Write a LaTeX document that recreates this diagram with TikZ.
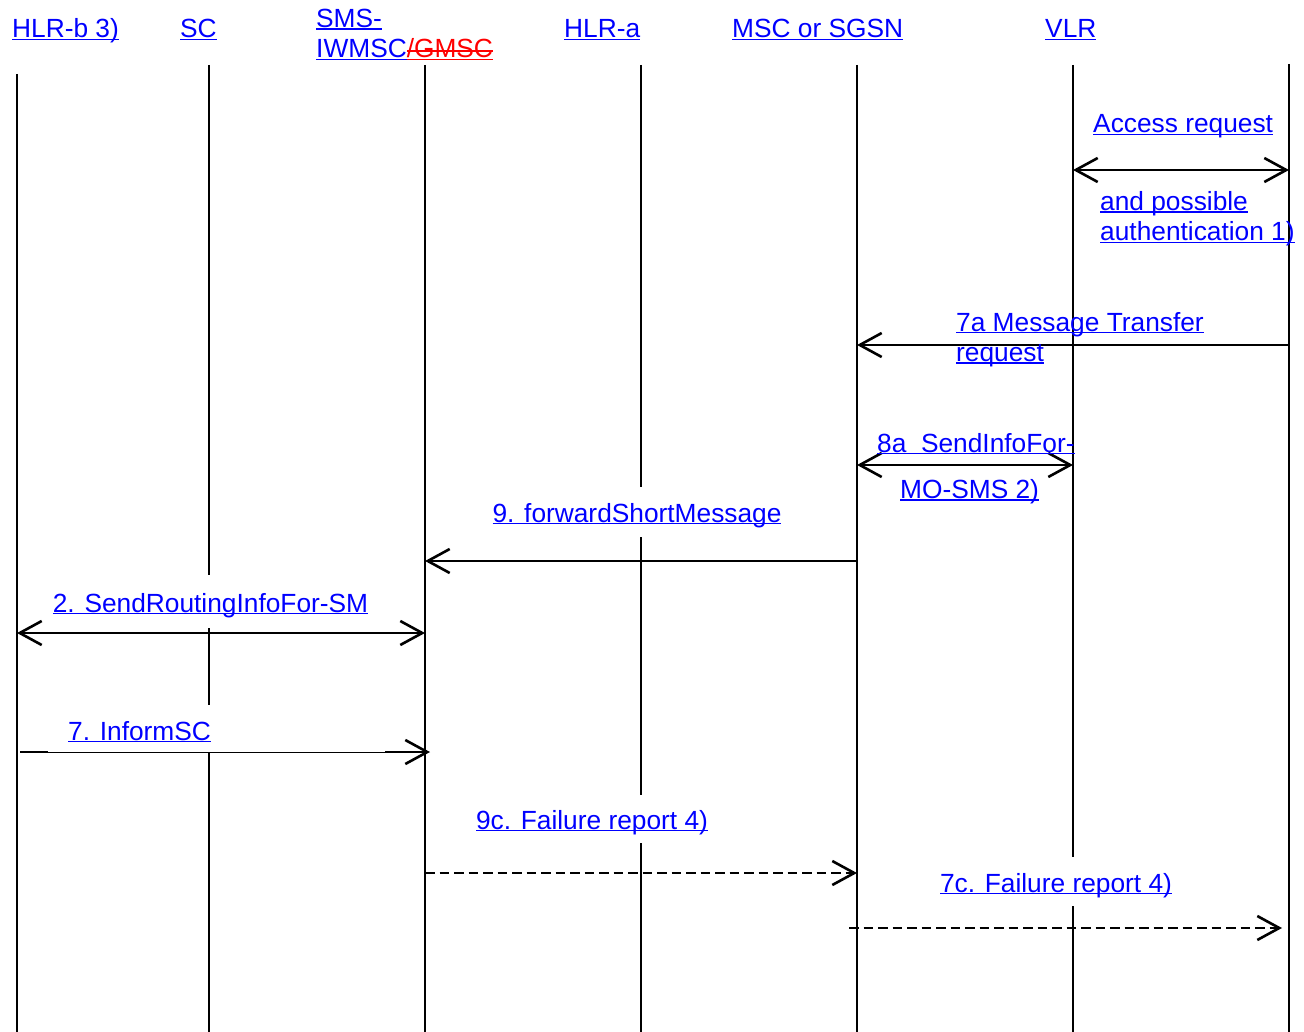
\documentclass[tikz,border=0pt]{standalone}
\usepackage{fontspec}
\setmainfont{Liberation Sans}
\usetikzlibrary{arrows.meta}
\definecolor{lblue}{RGB}{0,0,255}
\definecolor{lred}{RGB}{255,0,0}
\newcommand\ulin[1]{\setbox0\hbox{#1}\rlap{\rule[-2.3pt]{\wd0}{1.7pt}}\box0}
\newcommand\strk[1]{\setbox0\hbox{#1}\rlap{\rule[-2.3pt]{\wd0}{1.7pt}}\rlap{\rule[5.8pt]{\wd0}{1.7pt}}\box0}
\tikzset{
  lbl/.style={font=\fontsize{26.3}{30.5}\selectfont, text=lblue, inner sep=0pt, anchor=base west, align=left},
  boxlbl/.style={font=\fontsize{26.3}{30.5}\selectfont, text=lblue, fill=white, inner ysep=0pt, inner xsep=10pt, anchor=base},
  life/.style={line width=2.5pt, black},
  tipb/.tip={Straight Barb[length=22pt,width=24pt,line width=2.6pt]},
  msg/.style={line width=2.5pt, black, -tipb},
  dmsg/.style={line width=2.5pt, black, {tipb}-{tipb}},
  fmsg/.style={line width=2.5pt, black, -tipb, dash pattern=on 9.5pt off 5pt},
}
\begin{document}
\begin{tikzpicture}[x=1pt,y=-1pt]
\useasboundingbox (0,0) rectangle (1304,1032);
% lifelines
\coordinate (hlrbT) at (17,74);   \coordinate (hlrbB) at (17,1032);
\coordinate (scT) at (209,65);    \coordinate (scB) at (209,1032);
\coordinate (iwT) at (425,65);    \coordinate (iwB) at (425,1032);
\coordinate (hlraT) at (641,65);  \coordinate (hlraB) at (641,1032);
\coordinate (mscT) at (857,65);   \coordinate (mscB) at (857,1032);
\coordinate (vlrT) at (1073,65);  \coordinate (vlrB) at (1073,1032);
\coordinate (msT) at (1289,64);   \coordinate (msB) at (1289,1032);
\foreach \l in {hlrb,sc,iw,hlra,msc,vlr,ms} \draw[life] (\l T) -- (\l B);
% headers
\node[lbl] (hHLRb) at (12,38) {\ulin{HLR-b 3)}};
\node[lbl] (hSC) at (180,38) {\ulin{SC}};
\node[lbl] (hIW) at (316,58) {\ulin{SMS-}\\\ulin{IWMSC}{\color{lred}\strk{/GMSC}}};
\node[lbl] (hHLRa) at (564,38) {\ulin{HLR-a}};
\node[lbl] (hMSC) at (732,38) {\ulin{MSC or SGSN}};
\node[lbl] (hVLR) at (1045,38) {\ulin{VLR}};
% message end points
\coordinate (accA) at (1073,170); \coordinate (accB) at (1289,170);
\coordinate (m7aA) at (1289,345); \coordinate (m7aB) at (857,345);
\coordinate (m8aA) at (857,465);  \coordinate (m8aB) at (1073,465);
\coordinate (m9A) at (857,561);   \coordinate (m9B) at (425,561);
\coordinate (m2A) at (17,633);    \coordinate (m2B) at (425,633);
\coordinate (m7A) at (20,752);    \coordinate (m7B) at (430,752);
\coordinate (m9cA) at (425,873);  \coordinate (m9cB) at (857,873);
\coordinate (m7cA) at (849,928);  \coordinate (m7cB) at (1282,928);
% messages
\draw[dmsg] (accA) -- (accB);
\draw[msg] (m7aA) -- (m7aB);
\draw[dmsg] (m8aA) -- (m8aB);
\draw[msg] (m9A) -- (m9B);
\draw[dmsg] (m2A) -- (m2B);
\draw[msg] (m7A) -- (m7B);
\draw[fmsg] (m9cA) -- (m9cB);
\draw[fmsg] (m7cA) -- (m7cB);
% label of 7 (its box covers the middle of the arrow)
\fill[white] (48,705) rectangle (385,752);
% labels
\node[lbl] (lAcc) at (1093,133) {\ulin{Access request}};
\node[lbl] (lAcc2) at (1100,241) {\ulin{and possible}\\\ulin{authentication 1)}};
\node[lbl] (l7a) at (956,361.5) {\ulin{7a Message Transfer}\\\ulin{request}};
\node[lbl] (l8a) at (877,452) {\ulin{8a\ \ SendInfoFor-}};
\node[lbl] (l8b) at (900,498.5) {\ulin{MO-SMS 2)}};
\node[boxlbl, text height=35pt, text depth=15pt] (l9) at (637,522) {\ulin{9. forwardShortMessage}};
\node[boxlbl, text height=37pt, text depth=16pt] (l2) at (210.5,612) {\ulin{2. SendRoutingInfoFor-SM}};
\node[lbl] (l7) at (68,740) {\ulin{7. InformSC}};
\node[boxlbl, text height=34pt, text depth=14pt] (l9c) at (592,829) {\ulin{9c. Failure report 4)}};
\node[boxlbl, text height=35pt, text depth=14pt] (l7c) at (1056,892) {\ulin{7c. Failure report 4)}};
\end{tikzpicture}
\end{document}
